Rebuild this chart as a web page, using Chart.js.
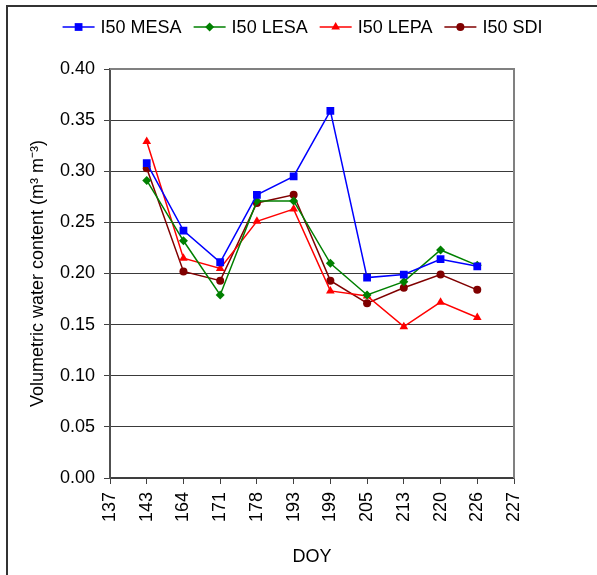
<!DOCTYPE html>
<html>
<head>
<meta charset="utf-8">
<script src="https://cdn.jsdelivr.net/npm/chart.js@4/dist/chart.umd.min.js"></script>
<style>
  html, body { margin: 0; padding: 0; background: #fff; }
  #wrap { position: relative; width: 597px; height: 575px; overflow: hidden; }
  #frame { position: absolute; left: 6px; top: 5px; right: -10px; bottom: -10px;
           border-left: 2px solid #333; border-top: 2px solid #333; }
  #chartCanvas { position: absolute; left: 0; top: 0; }
</style>
</head>
<body>
<div id="wrap">
  <div id="frame"></div>
  <canvas id="chartCanvas" width="597" height="575"></canvas>
</div>
<script>
(function() {

  // day of year, first and last are empty slots on the axis
  var doyLabels = ['137', '143', '164', '171', '178', '193', '199', '205', '213', '220', '226', '227'];

  var mesaValues = [null, 0.308, 0.242, 0.211, 0.277, 0.295, 0.359, 0.196, 0.199, 0.214, 0.207, null];
  var lesaValues = [null, 0.291, 0.232, 0.179, 0.271, 0.271, 0.210, 0.179, 0.192, 0.223, 0.208, null];
  var lepaValues = [null, 0.329, 0.215, 0.205, 0.251, 0.263, 0.183, 0.178, 0.148, 0.172, 0.157, null];
  var sdiValues  = [null, 0.303, 0.202, 0.193, 0.269, 0.277, 0.193, 0.171, 0.186, 0.199, 0.184, null];

  var seriesNames = ['I50 MESA', 'I50 LESA', 'I50 LEPA', 'I50 SDI'];

  var FONT = 'Arial, "Liberation Sans", sans-serif';

  function makeSet(label, data, color, style, radius) {
    return {
      label: label,
      data: data,
      borderColor: color,
      backgroundColor: color,
      borderWidth: 1.5,
      pointStyle: style,
      pointRadius: radius,
      pointBorderWidth: 0,
      pointBackgroundColor: color,
      tension: 0,
      fill: false
    };
  }

  // legend with a line through the marker, like the original
  var lineLegend = {
    id: 'lineLegend',
    afterDraw: function(chart) {
      var ctx = chart.ctx;
      var sets = chart.data.datasets;
      var lineLen = 32, gapText = 6, gapItem = 12, y = 27;
      ctx.save();
      ctx.font = '18px ' + FONT;
      var total = 0;
      sets.forEach(function(ds, i) {
        total += lineLen + gapText + ctx.measureText(ds.label).width;
        if (i < sets.length - 1) total += gapItem;
      });
      var x = 302.5 - total / 2;
      sets.forEach(function(ds) {
        ctx.strokeStyle = ds.borderColor;
        ctx.lineWidth = 1.5;
        ctx.beginPath();
        ctx.moveTo(x, y);
        ctx.lineTo(x + lineLen, y);
        ctx.stroke();
        ctx.fillStyle = ds.borderColor;
        Chart.helpers.drawPoint(ctx, { pointStyle: ds.pointStyle, radius: ds.pointRadius, borderWidth: 0, rotation: 0 }, x + lineLen / 2, y);
        ctx.fillStyle = '#000';
        ctx.textBaseline = 'middle';
        ctx.textAlign = 'left';
        ctx.fillText(ds.label, x + lineLen + gapText, y + 1);
        x += lineLen + gapText + ctx.measureText(ds.label).width + gapItem;
      });
      ctx.restore();
    }
  };

  // grey top and right edges of the plot area
  var plotEdges = {
    id: 'plotEdges',
    beforeDatasetsDraw: function(chart) {
      var a = chart.chartArea, ctx = chart.ctx;
      ctx.save();
      ctx.strokeStyle = '#808080';
      ctx.lineWidth = 2;
      ctx.beginPath();
      ctx.moveTo(a.left, a.top);
      ctx.lineTo(a.right, a.top);
      ctx.lineTo(a.right, a.bottom);
      ctx.stroke();
      ctx.restore();
    }
  };

  var chartInstance = new Chart(document.getElementById('chartCanvas'), {
    type: 'line',
    data: {
      labels: doyLabels,
      datasets: [
        makeSet(seriesNames[0], mesaValues, '#0000FF', 'rect', 5.5),
        makeSet(seriesNames[1], lesaValues, '#008000', 'rectRot', 4.5),
        makeSet(seriesNames[2], lepaValues, '#FF0000', 'triangle', 5),
        makeSet(seriesNames[3], sdiValues, '#800000', 'circle', 4)
      ]
    },
    options: {
      responsive: false,
      animation: false,
      layout: { padding: { top: 69, right: 83, left: 0, bottom: 0 } },
      plugins: {
        legend: { display: false },
        tooltip: { enabled: false }
      },
      scales: {
        x: {
          type: 'category',
          offset: false,
          afterFit: function(scale) { scale.height = 97; },
          grid: { drawOnChartArea: false, drawTicks: true, tickLength: 6, color: '#404040', tickColor: '#404040' },
          border: { color: '#404040', width: 1.5 },
          ticks: {
            autoSkip: false,
            minRotation: 90,
            maxRotation: 90,
            padding: 8,
            color: '#000',
            font: { family: FONT, size: 18 }
          },
          title: {
            display: true,
            text: 'DOY',
            color: '#000',
            font: { family: FONT, size: 18 },
            padding: { top: 0, bottom: 7 }
          }
        },
        y: {
          min: 0,
          max: 0.4,
          afterFit: function(scale) { scale.width = 110; },
          grid: { color: '#3a3a3a', lineWidth: 1, drawTicks: true, tickLength: 6, tickColor: '#404040' },
          border: { color: '#505050', width: 2 },
          ticks: {
            stepSize: 0.05,
            padding: 9,
            color: '#000',
            font: { family: FONT, size: 18 },
            callback: function(v) { return Number(v).toFixed(2); }
          },
          title: {
            display: true,
            text: 'Volumetric water content (m\u00B3 m\u207B\u00B3)',
            color: '#000',
            font: { family: FONT, size: 18 },
            padding: { top: 27, bottom: 0 }
          }
        }
      }
    },
    plugins: [plotEdges, lineLegend]
  });

})();
</script>
</body>
</html>
